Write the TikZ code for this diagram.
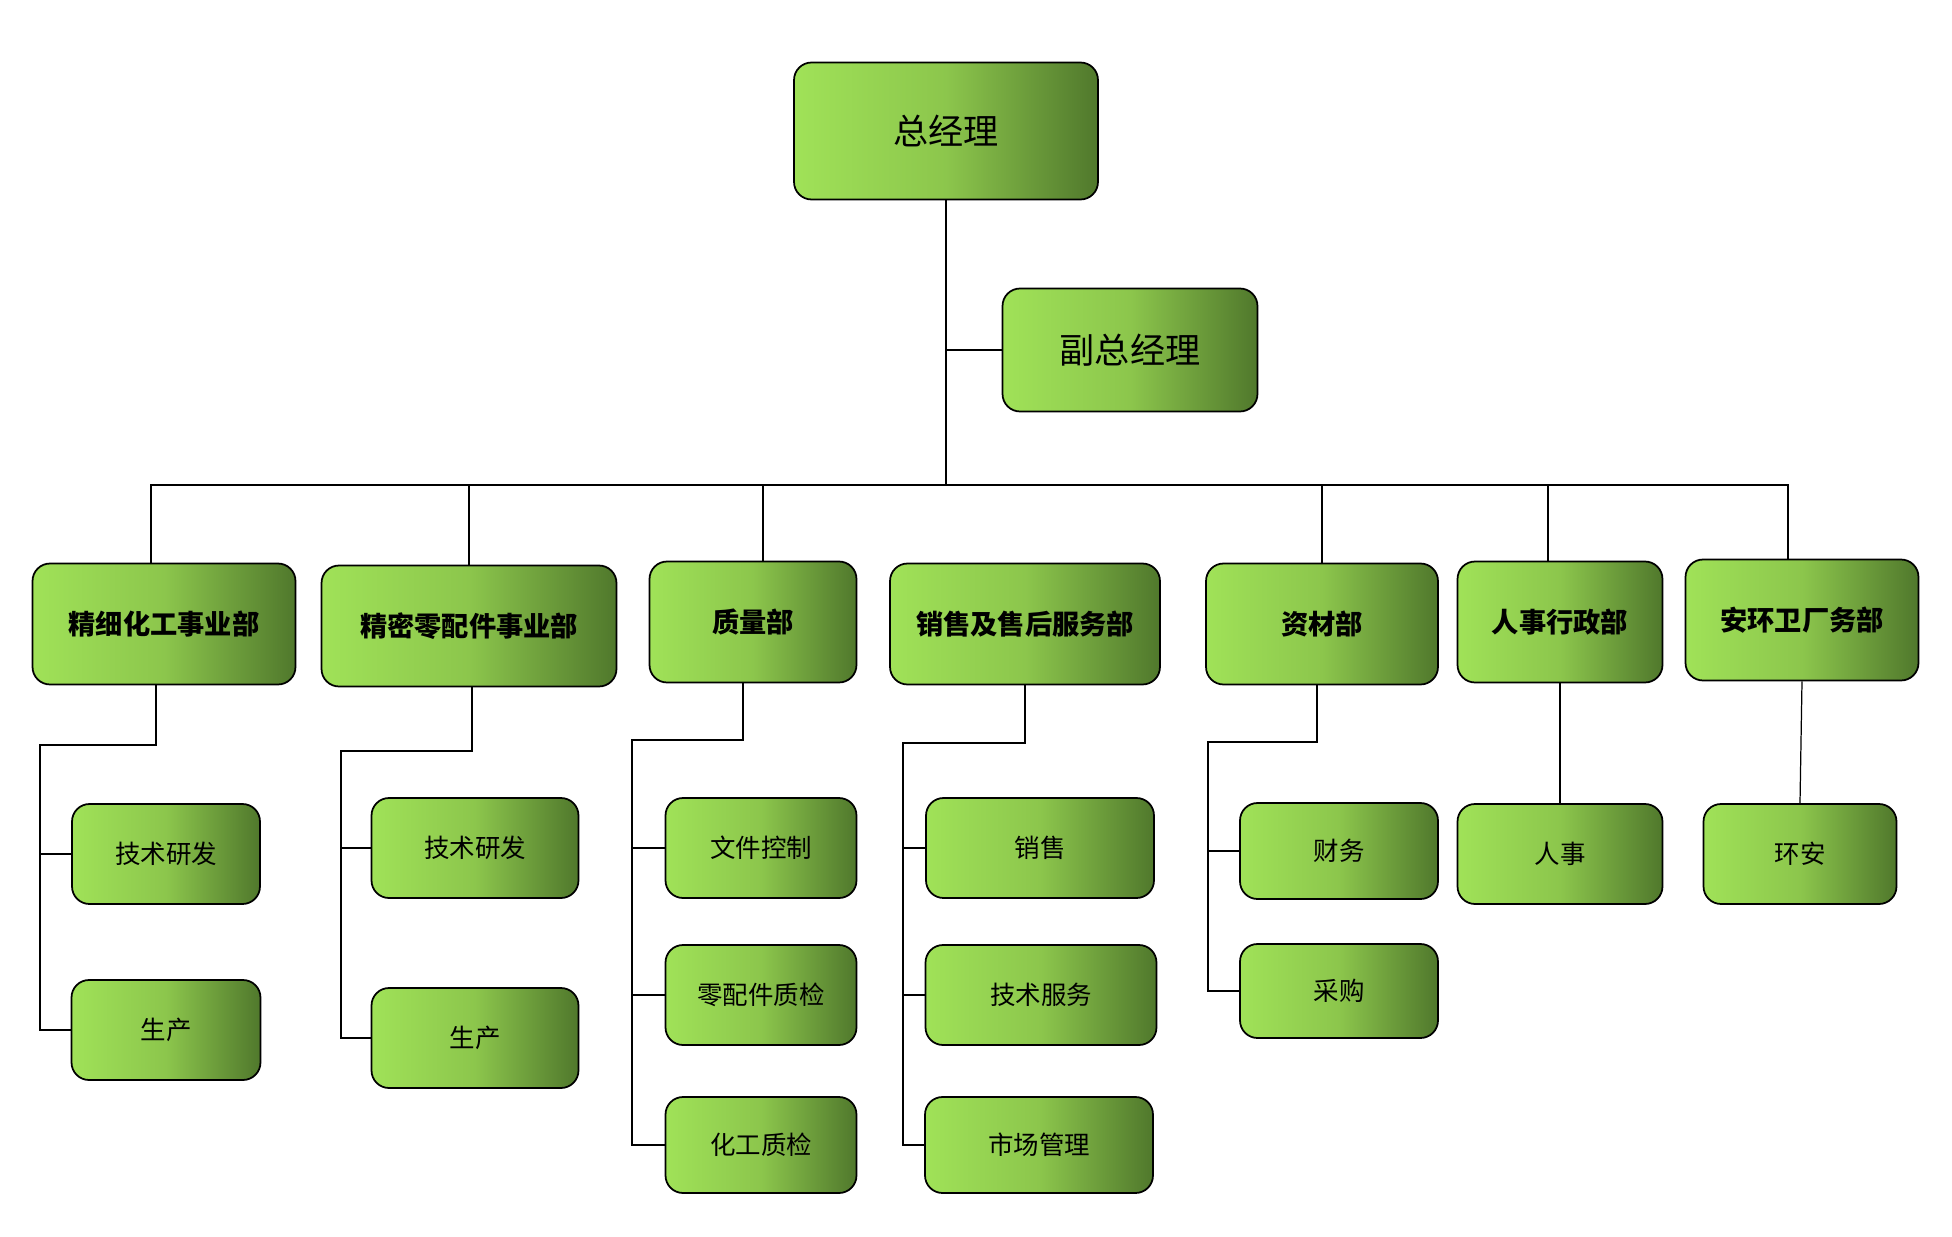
\documentclass[tikz,border=0pt]{standalone}
\usepackage{fontspec}
\usepackage{tikz}
\usetikzlibrary{positioning, calc}
\newfontfamily\cjk{Noto Sans CJK SC}
\definecolor{gleft}{RGB}{160,226,88}
\definecolor{gmid}{RGB}{140,198,76}
\definecolor{gright}{RGB}{80,120,44}

\begin{document}
\begin{tikzpicture}[
    x=0.02cm, y=-0.02cm,
    font=\cjk,
    box/.style={rectangle, draw=black, line width=1pt, rounded corners=0.35cm,
        left color=gleft, right color=gright, middle color=gmid,
        align=center, inner sep=0pt},
    topbox/.style={box, font=\cjk\fontsize{20}{24}\selectfont},
    deptbox/.style={box, font=\cjk\bfseries\fontsize{15.5}{19}\selectfont, minimum height=2.42cm},
    subbox/.style={box, font=\cjk\fontsize{14.5}{17}\selectfont, minimum height=2.0cm},
    link/.style={line width=1.1pt},
    bus/.style={line width=1.6pt},
    thinlink/.style={line width=0.7pt}
]
\useasboundingbox (0,0) rectangle (1952,1237);

% === TOP ===
\node[topbox, minimum width=6.08cm, minimum height=2.74cm] (ceo) at (946,131) {总经理};
\node[topbox, minimum width=5.10cm, minimum height=2.46cm] (vp) at (1130,350) {副总经理};

% === DEPARTMENTS ===
\node[deptbox, minimum width=5.26cm] (d1) at (164,624) {精细化工事业部};
\node[deptbox, minimum width=5.90cm] (d2) at (469,626) {精密零配件事业部};
\node[deptbox, minimum width=4.14cm] (d3) at (753,622) {质量部};
\node[deptbox, minimum width=5.40cm] (d4) at (1025,624) {销售及售后服务部};
\node[deptbox, minimum width=4.64cm] (d5) at (1322,624) {资材部};
\node[deptbox, minimum width=4.10cm] (d6) at (1560,622) {人事行政部};
\node[deptbox, minimum width=4.66cm] (d7) at (1802,620) {安环卫厂务部};

% === SECTIONS ===
\node[subbox, minimum width=3.76cm] (c1a) at (166,854) {技术研发};
\node[subbox, minimum width=3.78cm] (c1b) at (166,1030) {生产};
\node[subbox, minimum width=4.14cm] (c2a) at (475,848) {技术研发};
\node[subbox, minimum width=4.14cm] (c2b) at (475,1038) {生产};
\node[subbox, minimum width=3.82cm] (c3a) at (761,848) {文件控制};
\node[subbox, minimum width=3.82cm] (c3b) at (761,995) {零配件质检};
\node[subbox, minimum width=3.82cm, minimum height=1.92cm] (c3c) at (761,1145) {化工质检};
\node[subbox, minimum width=4.56cm] (c4a) at (1040,848) {销售};
\node[subbox, minimum width=4.62cm] (c4b) at (1041,995) {技术服务};
\node[subbox, minimum width=4.56cm, minimum height=1.92cm] (c4c) at (1039,1145) {市场管理};
\node[subbox, minimum width=3.96cm, minimum height=1.92cm] (c5a) at (1339,851) {财务};
\node[subbox, minimum width=3.96cm, minimum height=1.88cm] (c5b) at (1339,991) {采购};
\node[subbox, minimum width=4.10cm] (c6) at (1560,854) {人事};
\node[subbox, minimum width=3.86cm] (c7) at (1800,854) {环安};

% Bus and elbows
\coordinate (busL) at (151,485);
\coordinate (k1) at (40,745);
\coordinate (k2) at (341,751);
\coordinate (k3) at (632,740);
\coordinate (k4) at (903,743);
\coordinate (k5) at (1208,742);

% Lines
\draw[thinlink] (ceo.south) -- (ceo.south |- busL);
\draw[link] (ceo.south |- vp.west) -- (vp.west);
\draw[bus] ([xshift=-0.26cm]d1.north) -- ([xshift=-0.26cm]d1.north |- busL)
    -- ([xshift=-0.28cm]d7.north |- busL) -- ([xshift=-0.28cm]d7.north);
\draw[link] (d2.north) -- (d2.north |- busL);
\draw[link] ([xshift=0.2cm]d3.north) -- ([xshift=0.2cm]d3.north |- busL);
\draw[link] (d5.north) -- (d5.north |- busL);
\draw[link] ([xshift=-0.24cm]d6.north) -- ([xshift=-0.24cm]d6.north |- busL);

\draw[link] ([xshift=-0.16cm]d1.south) |- (k1) |- (c1b.west);
\draw[link] (k1 |- c1a.west) -- (c1a.west);
\draw[link] ([xshift=0.06cm]d2.south) |- (k2) |- (c2b.west);
\draw[link] (k2 |- c2a.west) -- (c2a.west);
\draw[link] ([xshift=-0.2cm]d3.south) |- (k3) |- (c3c.west);
\draw[link] (k3 |- c3a.west) -- (c3a.west);
\draw[link] (k3 |- c3b.west) -- (c3b.west);
\draw[link] (d4.south) |- (k4) |- (c4c.west);
\draw[link] (k4 |- c4a.west) -- (c4a.west);
\draw[link] (k4 |- c4b.west) -- (c4b.west);
\draw[link] ([xshift=-0.1cm]d5.south) |- (k5) |- (c5b.west);
\draw[link] (k5 |- c5a.west) -- (c5a.west);
\draw[thinlink] (d6.south) -- (c6.north);
\draw[thinlink] (d7.south) -- (c7.north);

\end{tikzpicture}
\end{document}
